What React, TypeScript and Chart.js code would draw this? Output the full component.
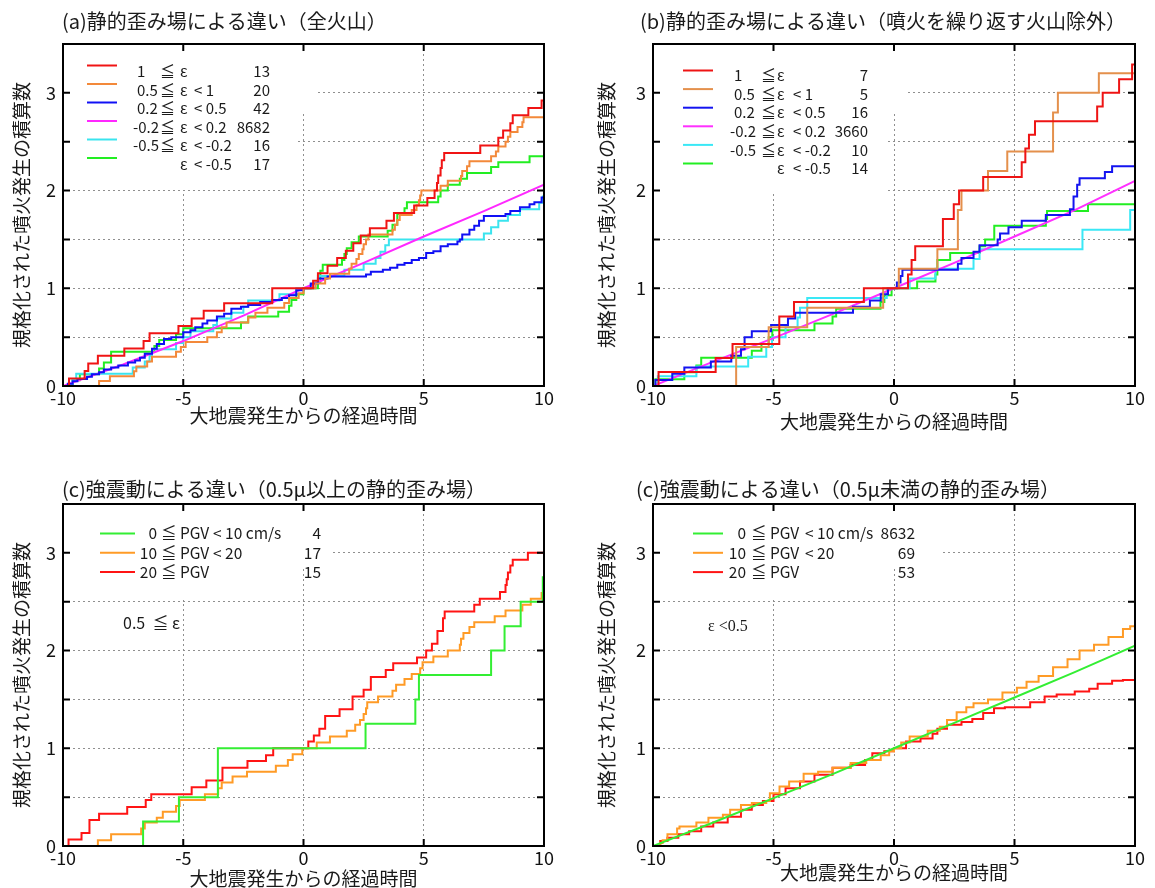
import React, { useEffect, useRef } from 'react';
import { Chart, registerables } from 'chart.js';

Chart.register(...registerables);

type Pt = [number, number];

const FONT = '"Noto Sans CJK JP", "Noto Sans", sans-serif';

// ---------- axes ----------
const xTickValues = [-10, -5, 0, 5, 10];
const xTickLabels = ['-10', '-5', '0', '5', '10'];
const yGridValues = [0, 0.5, 1, 1.5, 2, 2.5, 3, 3.5];
const yTickLabels = ['0', '', '1', '', '2', '', '3', ''];
const xAxisTitle = '大地震発生からの経過時間';
const yAxisTitle = '規格化された噴火発生の積算数';

// ---------- titles ----------
const titleA = '(a)静的歪み場による違い（全火山）';
const titleB = '(b)静的歪み場による違い（噴火を繰り返す火山除外）';
const titleC = '(c)強震動による違い（0.5μ以上の静的歪み場）';
const titleD = '(c)強震動による違い（0.5μ未満の静的歪み場）';

// ---------- legend texts ----------
const strainLegendA = [
  ['1', '≦', 'ε', '', '13'],
  ['0.5', '≦', 'ε', '< 1', '20'],
  ['0.2', '≦', 'ε', '< 0.5', '42'],
  ['-0.2', '≦', 'ε', '< 0.2', '8682'],
  ['-0.5', '≦', 'ε', '< -0.2', '16'],
  ['', '', 'ε', '< -0.5', '17'],
];
const strainLegendB = [
  ['1', '≦', 'ε', '', '7'],
  ['0.5', '≦', 'ε', '< 1', '5'],
  ['0.2', '≦', 'ε', '< 0.5', '16'],
  ['-0.2', '≦', 'ε', '< 0.2', '3660'],
  ['-0.5', '≦', 'ε', '< -0.2', '10'],
  ['', '', 'ε', '< -0.5', '14'],
];
const pgvLegendC = [
  ['0', '≦', 'PGV', '< 10 cm/s', '4'],
  ['10', '≦', 'PGV', '< 20', '17'],
  ['20', '≦', 'PGV', '', '15'],
];
const pgvLegendD = [
  ['0', '≦', 'PGV', '< 10 cm/s', '8632'],
  ['10', '≦', 'PGV', '< 20', '69'],
  ['20', '≦', 'PGV', '', '53'],
];
const noteC = '0.5  ≦ ε';
const noteD = 'ε <0.5';

// ---------- panel (a) ----------
const aRed: Pt[] = [[-10,0],[-9.75,0.077],[-9.1,0.154],[-8.95,0.23],[-8.55,0.31],[-7.45,0.385],[-6.65,0.46],[-6.4,0.54],[-5.2,0.615],[-4.65,0.69],[-4.15,0.77],[-3.3,0.846],[-1.3,1.0],[0.4,1.077],[0.6,1.154],[1.0,1.23],[1.4,1.31],[1.76,1.385],[2.07,1.46],[2.38,1.54],[2.76,1.615],[3.45,1.69],[3.76,1.77],[4.6,1.846],[5.15,1.923],[5.45,2.0],[5.55,2.077],[5.6,2.154],[5.7,2.23],[5.75,2.31],[5.85,2.385],[7.35,2.46],[8.1,2.54],[8.3,2.615],[8.6,2.69],[8.7,2.77],[9.35,2.846],[9.9,2.923],[10,2.923]];
const aOrange: Pt[] = [[-10,0],[-8.5,0.05],[-8.05,0.1],[-7.05,0.15],[-6.95,0.2],[-6.5,0.25],[-6.3,0.3],[-5.3,0.35],[-5.1,0.4],[-4.9,0.45],[-4.0,0.5],[-3.6,0.55],[-3.4,0.6],[-3.2,0.65],[-2.3,0.7],[-2.0,0.75],[-1.5,0.8],[-0.8,0.85],[-0.6,0.9],[-0.2,0.95],[0,1.0],[0.5,1.05],[0.9,1.1],[1.1,1.15],[1.9,1.2],[2.0,1.25],[2.2,1.3],[2.3,1.35],[2.45,1.4],[2.5,1.45],[2.6,1.5],[2.7,1.55],[3.7,1.6],[3.8,1.65],[3.9,1.7],[4.0,1.75],[4.5,1.8],[4.7,1.85],[4.8,1.9],[4.85,1.95],[4.9,2.0],[5.7,2.05],[6.0,2.1],[6.55,2.15],[6.6,2.2],[6.8,2.25],[6.9,2.3],[7.8,2.35],[8.0,2.4],[8.1,2.45],[8.4,2.5],[8.5,2.55],[8.6,2.6],[8.9,2.65],[9.1,2.7],[9.15,2.75],[10,2.75]];
const aBlue: Pt[] = [[-10,0],[-9.8,0.024],[-9.6,0.048],[-9.4,0.071],[-9.0,0.095],[-8.8,0.12],[-8.5,0.14],[-8.3,0.17],[-8.0,0.19],[-7.7,0.21],[-7.3,0.24],[-7.0,0.26],[-6.8,0.29],[-6.6,0.33],[-6.3,0.38],[-6.1,0.43],[-5.8,0.48],[-5.5,0.5],[-5.0,0.55],[-4.7,0.57],[-4.5,0.6],[-4.2,0.64],[-4.0,0.67],[-3.6,0.71],[-3.3,0.74],[-3.0,0.79],[-2.6,0.81],[-2.3,0.83],[-1.8,0.86],[-1.3,0.88],[-0.9,0.9],[-0.6,0.93],[-0.3,0.98],[0,1.0],[0.3,1.05],[0.6,1.1],[1.0,1.12],[2.6,1.14],[2.8,1.17],[3.3,1.19],[3.6,1.21],[3.9,1.24],[4.2,1.26],[4.5,1.29],[4.8,1.31],[5.1,1.36],[5.4,1.38],[5.7,1.43],[6.0,1.45],[6.4,1.48],[6.5,1.5],[6.6,1.55],[6.9,1.6],[7.1,1.64],[7.3,1.69],[7.5,1.74],[8.4,1.76],[8.6,1.79],[9.0,1.83],[9.4,1.86],[9.6,1.88],[9.9,1.93],[10,1.93]];
const aMagenta: Pt[] = [[-10,0],[-7.5,0.22],[-5,0.46],[-2.5,0.72],[0,1.0],[2.5,1.26],[5,1.53],[7.5,1.79],[10,2.06]];
const aCyan: Pt[] = [[-10,0],[-9.6,0.0625],[-9.45,0.125],[-7.1,0.19],[-6.6,0.25],[-6.4,0.31],[-6.3,0.375],[-5.3,0.44],[-5.0,0.5],[-4.7,0.56],[-3.75,0.625],[-3.6,0.69],[-3.0,0.75],[-2.5,0.81],[-2.3,0.875],[-1.0,0.94],[-0.3,1.0],[0.5,1.06],[0.6,1.125],[1.7,1.19],[2.5,1.25],[3.0,1.31],[3.2,1.375],[3.4,1.44],[3.55,1.5],[7.5,1.56],[7.8,1.625],[8.1,1.69],[8.5,1.75],[9.0,1.81],[9.8,1.875],[9.95,1.94],[10,1.94]];
const aGreen: Pt[] = [[-10,0],[-9.6,0.06],[-9.3,0.12],[-8.5,0.18],[-8.3,0.24],[-8.0,0.35],[-6.2,0.41],[-6.0,0.47],[-5.3,0.53],[-5.0,0.59],[-2.6,0.65],[-2.3,0.71],[-1.05,0.76],[-0.6,0.82],[-0.5,0.88],[-0.3,0.94],[0,1.0],[0.6,1.06],[0.7,1.18],[0.8,1.24],[1.6,1.29],[1.7,1.35],[1.8,1.41],[2.0,1.47],[2.3,1.53],[3.5,1.59],[3.7,1.65],[3.9,1.76],[4.2,1.82],[4.3,1.88],[5.6,1.94],[5.7,2.0],[6.0,2.06],[6.5,2.12],[6.8,2.18],[7.8,2.24],[8.1,2.29],[9.4,2.35],[10,2.35]];

// ---------- panel (b) ----------
const bRed: Pt[] = [[-10,0],[-9.77,0.143],[-7.4,0.286],[-6.7,0.43],[-4.76,0.71],[-4.15,0.86],[-1.25,1.0],[0.58,1.14],[0.73,1.29],[0.88,1.43],[2.03,1.71],[2.48,1.86],[2.7,2.0],[3.7,2.14],[5.3,2.29],[5.45,2.43],[5.6,2.57],[5.85,2.71],[8.43,2.86],[8.66,3.0],[9.34,3.14],[9.88,3.29],[10,3.29]];
const bOrange: Pt[] = [[-10,0],[-6.55,0.4],[-5.2,0.6],[-3.6,0.8],[-0.45,1.0],[0.2,1.2],[1.8,1.4],[2.65,1.8],[2.8,2.0],[3.9,2.2],[4.7,2.4],[6.6,2.8],[6.8,3.0],[8.5,3.2],[10,3.2]];
const bBlue: Pt[] = [[-10,0],[-9.9,0.0625],[-9.2,0.125],[-8.7,0.19],[-7.6,0.25],[-6.75,0.31],[-6.35,0.375],[-6.2,0.5],[-5.9,0.56],[-5.1,0.625],[-4.4,0.69],[-4.1,0.75],[-1.7,0.81],[-1.0,0.875],[-0.55,0.94],[-0.25,1.0],[0.12,1.06],[0.27,1.125],[0.35,1.19],[2.65,1.25],[2.8,1.31],[3.3,1.375],[3.55,1.44],[4.3,1.5],[4.4,1.56],[4.75,1.625],[5.3,1.69],[6.3,1.75],[7.3,1.81],[7.45,1.94],[7.6,2.06],[7.7,2.125],[8.75,2.19],[9.05,2.25],[10,2.25]];
const bMagenta: Pt[] = [[-10,0],[-7.5,0.25],[-5,0.49],[-2.5,0.74],[0,1.0],[2.5,1.26],[5,1.53],[7.5,1.8],[10,2.1]];
const bCyan: Pt[] = [[-10,0],[-9.8,0.1],[-8.2,0.2],[-6.05,0.3],[-5.3,0.4],[-5.06,0.5],[-4.5,0.6],[-4.0,0.7],[-3.9,0.8],[-3.6,0.9],[-0.3,1.0],[0.65,1.1],[1.72,1.2],[3.3,1.3],[3.55,1.4],[7.82,1.6],[9.8,1.8],[10,1.8]];
const bGreen: Pt[] = [[-10,0],[-9.9,0.07],[-8.7,0.14],[-8.2,0.21],[-8.0,0.29],[-5.9,0.36],[-5.5,0.43],[-5.2,0.5],[-5.05,0.57],[-3.3,0.64],[-2.55,0.71],[-2.4,0.79],[-0.56,0.86],[-0.4,0.93],[-0.1,1.0],[0.96,1.07],[1.72,1.14],[1.8,1.29],[2.33,1.36],[3.55,1.43],[3.78,1.5],[4.16,1.64],[6.3,1.71],[6.35,1.79],[8.05,1.86],[10,1.86]];

// ---------- panel (c) ----------
const cGreen: Pt[] = [[-10,0],[-6.67,0.25],[-5.18,0.5],[-3.56,1.0],[2.58,1.25],[4.65,1.5],[4.8,1.75],[7.8,2.0],[8.36,2.25],[9.03,2.5],[9.95,2.75],[10,2.75]];
const cOrange: Pt[] = [[-10,0],[-8.55,0.06],[-8.0,0.12],[-6.75,0.18],[-6.6,0.24],[-6.1,0.29],[-5.85,0.35],[-5.3,0.41],[-5.15,0.47],[-4.1,0.53],[-3.55,0.59],[-3.4,0.65],[-2.95,0.71],[-2.35,0.76],[-1.15,0.82],[-0.65,0.88],[-0.45,0.94],[-0.05,1.0],[0.55,1.06],[1.1,1.12],[1.8,1.18],[2.15,1.24],[2.35,1.29],[2.5,1.35],[2.6,1.41],[2.65,1.47],[3.1,1.53],[3.7,1.59],[3.85,1.65],[4.2,1.71],[4.5,1.76],[4.85,1.82],[4.95,1.88],[5.4,1.94],[6.0,2.0],[6.5,2.06],[6.55,2.12],[6.65,2.18],[6.9,2.24],[7.1,2.29],[7.95,2.35],[8.4,2.41],[9.1,2.47],[9.45,2.53],[9.9,2.59],[10,2.59]];
const cRed: Pt[] = [[-10,0],[-9.77,0.067],[-9.23,0.133],[-8.9,0.267],[-8.5,0.33],[-7.33,0.4],[-6.56,0.47],[-6.33,0.53],[-4.65,0.6],[-4.04,0.67],[-3.37,0.8],[-2.33,0.87],[-1.56,0.93],[-1.26,1.0],[0.2,1.07],[0.43,1.13],[0.66,1.2],[0.9,1.33],[1.5,1.4],[2.04,1.53],[2.5,1.6],[2.8,1.73],[3.42,1.8],[3.73,1.87],[4.72,1.93],[5.1,2.0],[5.34,2.07],[5.57,2.2],[5.8,2.33],[5.87,2.4],[7.1,2.47],[7.33,2.53],[8.17,2.6],[8.4,2.67],[8.45,2.73],[8.5,2.8],[8.6,2.87],[8.7,2.93],[9.33,3.0],[10,3.0]];

// ---------- panel (d) ----------
const dGreen: Pt[] = [[-10,0],[-7.5,0.24],[-5,0.49],[-2.5,0.74],[0,1.0],[2.5,1.26],[5,1.52],[7.5,1.78],[10,2.05]];
const dOrange: Pt[] = [[-10,0],[-9.7,0.03],[-9.6,0.06],[-9.4,0.12],[-9.0,0.18],[-8.9,0.2],[-8.2,0.24],[-7.7,0.29],[-7.1,0.32],[-6.8,0.37],[-6.35,0.42],[-5.9,0.44],[-5.3,0.46],[-5.15,0.54],[-4.75,0.61],[-4.35,0.66],[-3.75,0.74],[-3.15,0.76],[-2.55,0.8],[-1.8,0.85],[-1.15,0.88],[-0.55,0.93],[-0.2,0.97],[0,1.0],[0.3,1.06],[0.65,1.12],[1.4,1.18],[1.9,1.22],[2.2,1.29],[2.6,1.37],[3.0,1.42],[3.3,1.46],[3.9,1.5],[4.5,1.57],[5.1,1.62],[5.5,1.68],[6.0,1.74],[6.6,1.83],[7.2,1.91],[7.7,2.0],[8.3,2.06],[8.9,2.14],[9.5,2.22],[9.8,2.25],[10,2.3]];
const dRed: Pt[] = [[-10,0],[-9.7,0.05],[-9.4,0.085],[-8.95,0.12],[-8.5,0.15],[-8.0,0.2],[-7.5,0.24],[-6.9,0.3],[-6.35,0.37],[-5.9,0.42],[-5.44,0.46],[-5.0,0.53],[-4.5,0.59],[-3.9,0.66],[-3.3,0.73],[-2.55,0.8],[-1.8,0.83],[-1.2,0.88],[-0.9,0.95],[-0.4,0.97],[0,1.0],[0.5,1.07],[1.1,1.1],[1.6,1.15],[1.8,1.2],[2.2,1.24],[2.8,1.27],[3.25,1.3],[3.7,1.36],[4.15,1.41],[4.6,1.42],[5.65,1.47],[6.25,1.53],[6.75,1.55],[7.5,1.58],[8.1,1.61],[8.45,1.66],[9.05,1.69],[9.5,1.7],[10,1.73]];

// ---------- styling / layout (not data) ----------
interface Series { pts: Pt[]; color: string; stepped: boolean }
interface LegendLayout {
  lineX0: number; lineX1: number; lineDy: number;
  lhsLeft: boolean; // left-align first column (minus sign hangs left)
  cols: number[]; // lhs, sym, var, rest, countRight
  rowY0: number; rowDy: number; size: number;
}
interface PanelSpec {
  left: number; top: number; width: number; height: number;
  padTop: number; padRight: number; yAxisW: number; xAxisH: number;
  yTitlePad: number; xTitlePad: number;
  title: string; titleX: number; titleY: number;
  series: Series[];
  legend: string[][];
  legendLayout: LegendLayout;
  mask: number[][];
  note?: { text: string; x: number; y: number; font: string };
}

const strainLayoutA: LegendLayout = { lineX0: 24, lineX1: 54, lineDy: -6, lhsLeft: true, cols: [74, 97, 117, 131, 207], rowY0: 27.5, rowDy: 18.5, size: 15 };
const strainLayoutB: LegendLayout = { lineX0: 30, lineX1: 60, lineDy: -5, lhsLeft: true, cols: [81, 108, 124, 140, 215], rowY0: 31.5, rowDy: 18.6, size: 15 };
const pgvLayoutC: LegendLayout = { lineX0: 37, lineX1: 72, lineDy: 0, lhsLeft: false, cols: [94, 98, 117, 150, 258], rowY0: 29.5, rowDy: 19.3, size: 15.5 };
const pgvLayoutD: LegendLayout = { lineX0: 40, lineX1: 70, lineDy: 0, lhsLeft: false, cols: [93, 98, 117, 152, 262], rowY0: 29.5, rowDy: 19.3, size: 15.5 };

const panels: PanelSpec[] = [
  {
    left: 0, top: 0, width: 590, height: 444, padTop: 44, padRight: 46, yAxisW: 63, xAxisH: 58,
    yTitlePad: 10.6, xTitlePad: 16.6, title: titleA, titleX: 62, titleY: 21,
    series: [
      { pts: aRed, color: '#f01414', stepped: true },
      { pts: aOrange, color: '#f3893a', stepped: true },
      { pts: aBlue, color: '#1010f5', stepped: true },
      { pts: aMagenta, color: '#ff28ff', stepped: false },
      { pts: aCyan, color: '#3ae4ee', stepped: true },
      { pts: aGreen, color: '#22ee22', stepped: true },
    ],
    legend: strainLegendA, legendLayout: strainLayoutA,
    mask: [[2, 2, 250, 68], [2, 2, 231, 144]],
  },
  {
    left: 590, top: 0, width: 565, height: 444, padTop: 44, padRight: 20, yAxisW: 63, xAxisH: 58,
    yTitlePad: 5.6, xTitlePad: 10.6, title: titleB, titleX: 50, titleY: 21,
    series: [
      { pts: bRed, color: '#ee1414', stepped: true },
      { pts: bOrange, color: '#e4904c', stepped: true },
      { pts: bBlue, color: '#1414f0', stepped: true },
      { pts: bMagenta, color: '#ff30ff', stepped: false },
      { pts: bCyan, color: '#3ae8f6', stepped: true },
      { pts: bGreen, color: '#22ee22', stepped: true },
    ],
    legend: strainLegendB, legendLayout: strainLayoutB,
    mask: [[2, 2, 250, 68], [2, 2, 231, 146]],
  },
  {
    left: 0, top: 444, width: 590, height: 460, padTop: 60, padRight: 46, yAxisW: 63, xAxisH: 58,
    yTitlePad: 10.6, xTitlePad: 13.6, title: titleC, titleX: 62, titleY: 45,
    series: [
      { pts: cGreen, color: '#33ee33', stepped: true },
      { pts: cOrange, color: '#ff9b26', stepped: true },
      { pts: cRed, color: '#ff1414', stepped: true },
    ],
    legend: pgvLegendC, legendLayout: pgvLayoutC,
    mask: [[2, 2, 268, 62], [2, 2, 200, 94]],
    note: { text: noteC, x: 60, y: 119, font: `16px ${FONT}` },
  },
  {
    left: 590, top: 444, width: 565, height: 460, padTop: 60, padRight: 20, yAxisW: 63, xAxisH: 58,
    yTitlePad: 5.6, xTitlePad: 19.6, title: titleD, titleX: 46, titleY: 45,
    series: [
      { pts: dGreen, color: '#33ee33', stepped: false },
      { pts: dOrange, color: '#ff9b26', stepped: true },
      { pts: dRed, color: '#ff1414', stepped: true },
    ],
    legend: pgvLegendD, legendLayout: pgvLayoutD,
    mask: [[2, 2, 286, 62], [2, 2, 200, 94]],
    note: { text: noteD, x: 55, y: 123, font: `16px "Liberation Serif", serif` },
  },
];

function makeDecor(spec: PanelSpec) {
  return {
    id: 'panelDecor',
    beforeDatasetsDraw(chart: any) {
      const { ctx, chartArea: ca } = chart;
      ctx.save();
      ctx.fillStyle = '#ffffff';
      spec.mask.forEach(([x, y, w, h]) => ctx.fillRect(ca.left + x, ca.top + y, w, h));
      ctx.restore();
    },
    afterDraw(chart: any) {
      const { ctx, chartArea: ca } = chart;
      const xs = chart.scales.x;
      const ys = chart.scales.y;
      ctx.save();
      // frame
      ctx.strokeStyle = '#000';
      ctx.lineWidth = 2;
      ctx.strokeRect(ca.left, ca.top, ca.right - ca.left, ca.bottom - ca.top);
      ctx.beginPath();
      yGridValues.forEach((v) => {
        const py = ys.getPixelForValue(v);
        ctx.moveTo(ca.left, py); ctx.lineTo(ca.left + 7, py);
        ctx.moveTo(ca.right, py); ctx.lineTo(ca.right - 7, py);
      });
      xTickValues.forEach((v) => {
        const px = xs.getPixelForValue(v);
        ctx.moveTo(px, ca.top); ctx.lineTo(px, ca.top + 7);
        ctx.moveTo(px, ca.bottom); ctx.lineTo(px, ca.bottom - 7);
      });
      ctx.stroke();
      // panel title
      ctx.fillStyle = '#1a1a1a';
      ctx.font = `20px ${FONT}`;
      ctx.textBaseline = 'middle';
      ctx.textAlign = 'left';
      ctx.fillText(spec.title, spec.titleX, spec.titleY);
      // legend
      const L = spec.legendLayout;
      ctx.font = `${L.size}px ${FONT}`;
      spec.legend.forEach((row, i) => {
        const y = ca.top + L.rowY0 + i * L.rowDy;
        ctx.strokeStyle = spec.series[i].color;
        ctx.lineWidth = 2;
        ctx.beginPath();
        ctx.moveTo(ca.left + L.lineX0, y + L.lineDy);
        ctx.lineTo(ca.left + L.lineX1, y + L.lineDy);
        ctx.stroke();
        ctx.fillStyle = '#1a1a1a';
        if (L.lhsLeft) {
          ctx.textAlign = 'left';
          const hang = row[0].startsWith('-') ? 4 : 0;
          ctx.fillText(row[0], ca.left + L.cols[0] - hang, y);
        } else {
          ctx.textAlign = 'right';
          ctx.fillText(row[0], ca.left + L.cols[0], y);
        }
        ctx.textAlign = 'left';
        ctx.fillText(row[1], ca.left + L.cols[1], y);
        ctx.fillText(row[2], ca.left + L.cols[2], y);
        ctx.fillText(row[3], ca.left + L.cols[3], y);
        ctx.textAlign = 'right';
        ctx.fillText(row[4], ca.left + L.cols[4], y);
      });
      if (spec.note) {
        ctx.font = spec.note.font;
        ctx.textAlign = 'left';
        ctx.fillStyle = '#1a1a1a';
        ctx.fillText(spec.note.text, ca.left + spec.note.x, ca.top + spec.note.y);
      }
      ctx.restore();
    },
  };
}

function Panel({ spec }: { spec: PanelSpec }) {
  const ref = useRef<HTMLCanvasElement>(null);
  useEffect(() => {
    const canvas = ref.current;
    if (!canvas) return;
    const gridStyle = { color: '#8f8f8f', lineWidth: 1, drawTicks: false };
    const chart = new Chart(canvas, {
      type: 'line',
      data: {
        datasets: spec.series.map((s) => ({
          data: s.pts.map(([x, y]) => ({ x, y })),
          borderColor: s.color,
          backgroundColor: s.color,
          borderWidth: 2,
          pointRadius: 0,
          fill: false,
          stepped: s.stepped,
          tension: 0,
        })),
      },
      options: {
        animation: false,
        responsive: false,
        events: [],
        layout: { padding: { left: 0, top: spec.padTop, right: spec.padRight, bottom: 0 } },
        plugins: { legend: { display: false }, tooltip: { enabled: false }, title: { display: false } },
        scales: {
          x: {
            type: 'linear', min: -10, max: 10,
            afterBuildTicks: (s: any) => { s.ticks = xTickValues.map((v) => ({ value: v })); },
            afterFit: (s: any) => { s.height = spec.xAxisH; },
            ticks: {
              autoSkip: false, maxRotation: 0, minRotation: 0, padding: 1, color: '#111',
              font: { family: FONT, size: 18 },
              callback: (v: any) => xTickLabels[xTickValues.indexOf(Number(v))] ?? '',
            },
            grid: gridStyle,
            border: { display: false, dash: [2, 3] },
            title: {
              display: true, text: xAxisTitle, color: '#1a1a1a',
              font: { family: FONT, size: 19 }, padding: { top: 0, bottom: spec.xTitlePad },
            },
          },
          y: {
            type: 'linear', min: 0, max: 3.5,
            afterBuildTicks: (s: any) => { s.ticks = yGridValues.map((v) => ({ value: v })); },
            afterFit: (s: any) => { s.width = spec.yAxisW; },
            ticks: {
              autoSkip: false, padding: 7, color: '#111',
              font: { family: FONT, size: 18 },
              callback: (v: any) => yTickLabels[yGridValues.indexOf(Number(v))] ?? '',
            },
            grid: gridStyle,
            border: { display: false, dash: [2, 3] },
            title: {
              display: true, text: yAxisTitle, color: '#1a1a1a',
              font: { family: FONT, size: 19 }, padding: { top: spec.yTitlePad, bottom: 0 },
            },
          },
        },
      },
      plugins: [makeDecor(spec)],
    } as any);
    return () => chart.destroy();
  }, [spec]);
  return (
    <canvas
      ref={ref}
      width={spec.width}
      height={spec.height}
      style={{ position: 'absolute', left: spec.left, top: spec.top, width: spec.width, height: spec.height }}
    />
  );
}

export default function App() {
  return (
    <div style={{ position: 'absolute', left: 0, top: 0, width: 1155, height: 888, overflow: 'hidden', background: '#fff' }}>
      {panels.map((p, i) => <Panel key={i} spec={p} />)}
    </div>
  );
}
